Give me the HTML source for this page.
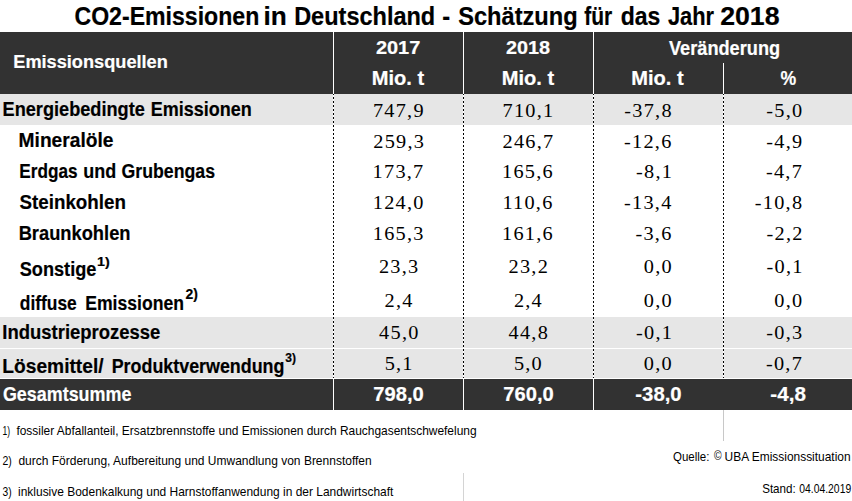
<!DOCTYPE html>
<html><head><meta charset="utf-8"><style>
html,body{margin:0;padding:0;background:#fff;width:852px;height:501px;overflow:hidden;font-family:"Liberation Sans",sans-serif;}
svg{display:block}
</style></head><body>
<svg width="852" height="501" viewBox="0 0 852 501">

<rect x="0" y="32" width="852" height="62" fill="#323232"/>
<rect x="0" y="94" width="852" height="31" fill="#e6e6e6"/>
<rect x="0" y="317" width="852" height="31" fill="#e6e6e6"/>
<rect x="0" y="349" width="852" height="29" fill="#e6e6e6"/>
<rect x="0" y="379" width="852" height="31" fill="#323232"/>
<rect x="333" y="32" width="1" height="62" fill="#fff"/>
<rect x="463" y="32" width="1" height="62" fill="#fff"/>
<rect x="593" y="32" width="1" height="62" fill="#fff"/>
<rect x="723" y="63" width="1" height="31" fill="#fff"/>
<rect x="333" y="379" width="1" height="31" fill="#fff"/>
<rect x="463" y="379" width="1" height="31" fill="#fff"/>
<rect x="593" y="379" width="1" height="31" fill="#fff"/>
<rect x="333" y="94" width="1" height="284" fill="#fff"/>
<rect x="463" y="94" width="1" height="284" fill="#fff"/>
<rect x="593" y="94" width="1" height="284" fill="#fff"/>
<rect x="723" y="94" width="1" height="284" fill="#fff"/>
<line x1="333.5" y1="94" x2="333.5" y2="378" stroke="#000" stroke-width="1" stroke-dasharray="2 2" stroke-dashoffset="1"/>
<line x1="463.5" y1="94" x2="463.5" y2="378" stroke="#000" stroke-width="1" stroke-dasharray="2 2" stroke-dashoffset="1"/>
<line x1="593.5" y1="94" x2="593.5" y2="378" stroke="#000" stroke-width="1" stroke-dasharray="2 2" stroke-dashoffset="1"/>
<line x1="723.5" y1="94" x2="723.5" y2="378" stroke="#000" stroke-width="1" stroke-dasharray="2 2" stroke-dashoffset="1"/>
<rect x="463" y="473" width="1" height="28" fill="#d4d4d4"/>
<rect x="723" y="410" width="1" height="31" fill="#c8c8c8"/>

<text xml:space="preserve" font-family="Liberation Sans" font-weight="bold" stroke-width="0.2" font-size="24.889" fill="#000" stroke="#000" transform="translate(74.48,24.70) scale(0.9281,1)">CO2-Emissionen</text>
<text xml:space="preserve" font-family="Liberation Sans" font-weight="bold" stroke-width="0.2" font-size="24.889" fill="#000" stroke="#000" transform="translate(263.56,24.70) scale(1.0538,1)">in</text>
<text xml:space="preserve" font-family="Liberation Sans" font-weight="bold" stroke-width="0.2" font-size="24.889" fill="#000" stroke="#000" transform="translate(294.13,24.70) scale(0.9452,1)">Deutschland</text>
<text xml:space="preserve" font-family="Liberation Sans" font-weight="bold" stroke-width="0.2" font-size="24.889" fill="#000" stroke="#000" transform="translate(442.26,24.70) scale(0.9529,1)">-</text>
<text xml:space="preserve" font-family="Liberation Sans" font-weight="bold" stroke-width="0.2" font-size="24.889" fill="#000" stroke="#000" transform="translate(458.13,24.70) scale(0.9504,1)">Schätzung</text>
<text xml:space="preserve" font-family="Liberation Sans" font-weight="bold" stroke-width="0.2" font-size="24.889" fill="#000" stroke="#000" transform="translate(584.27,24.70) scale(0.8447,1)">für</text>
<text xml:space="preserve" font-family="Liberation Sans" font-weight="bold" stroke-width="0.2" font-size="24.889" fill="#000" stroke="#000" transform="translate(620.68,24.70) scale(0.9246,1)">das</text>
<text xml:space="preserve" font-family="Liberation Sans" font-weight="bold" stroke-width="0.2" font-size="24.889" fill="#000" stroke="#000" transform="translate(667.90,24.70) scale(0.8771,1)">Jahr</text>
<text xml:space="preserve" font-family="Liberation Sans" font-weight="bold" stroke-width="0.2" font-size="24.889" fill="#000" stroke="#000" transform="translate(720.17,24.70) scale(1.0728,1)">2018</text>
<text xml:space="preserve" font-family="Liberation Sans" font-weight="bold" stroke-width="0.2" font-size="18.916" fill="#fff" stroke="#fff" transform="translate(13.26,68.40) scale(0.9614,1)">Emissionsquellen</text>
<text xml:space="preserve" font-family="Liberation Sans" font-weight="bold" stroke-width="0.2" font-size="19.058" fill="#fff" stroke="#fff" transform="translate(375.88,54.00) scale(1.0481,1)">2017</text>
<text xml:space="preserve" font-family="Liberation Sans" font-weight="bold" stroke-width="0.2" font-size="19.058" fill="#fff" stroke="#fff" transform="translate(505.88,54.00) scale(1.0405,1)">2018</text>
<text xml:space="preserve" font-family="Liberation Sans" font-weight="bold" stroke-width="0.2" font-size="19.484" fill="#fff" stroke="#fff" transform="translate(371.75,84.80) scale(1.0293,1)">Mio. t</text>
<text xml:space="preserve" font-family="Liberation Sans" font-weight="bold" stroke-width="0.2" font-size="19.484" fill="#fff" stroke="#fff" transform="translate(501.75,84.80) scale(1.0293,1)">Mio. t</text>
<text xml:space="preserve" font-family="Liberation Sans" font-weight="bold" stroke-width="0.2" font-size="19.484" fill="#fff" stroke="#fff" transform="translate(631.24,84.80) scale(1.0313,1)">Mio. t</text>
<text xml:space="preserve" font-family="Liberation Sans" font-weight="bold" stroke-width="0.2" font-size="19.484" fill="#fff" stroke="#fff" transform="translate(780.52,84.80) scale(0.9078,1)">%</text>
<text xml:space="preserve" font-family="Liberation Sans" font-weight="bold" stroke-width="0.2" font-size="19.342" fill="#fff" stroke="#fff" transform="translate(669.00,54.80) scale(0.9402,1)">Veränderung</text>
<text xml:space="preserve" font-family="Liberation Sans" font-weight="bold" stroke-width="0.2" font-size="19.911" fill="#000" stroke="#000" transform="translate(2.56,116.00) scale(0.9121,1)">Energiebedingte</text>
<text xml:space="preserve" font-family="Liberation Sans" font-weight="bold" stroke-width="0.2" font-size="19.911" fill="#000" stroke="#000" transform="translate(150.68,116.00) scale(0.9037,1)">Emissionen</text>
<text xml:space="preserve" font-family="Liberation Sans" font-weight="bold" stroke-width="0.2" font-size="19.911" fill="#000" stroke="#000" transform="translate(18.60,147.20) scale(0.9634,1)">Mineralöle</text>
<text xml:space="preserve" font-family="Liberation Sans" font-weight="bold" stroke-width="0.2" font-size="19.911" fill="#000" stroke="#000" transform="translate(19.32,177.70) scale(0.8648,1)">Erdgas</text>
<text xml:space="preserve" font-family="Liberation Sans" font-weight="bold" stroke-width="0.2" font-size="19.911" fill="#000" stroke="#000" transform="translate(83.16,177.70) scale(0.9043,1)">und</text>
<text xml:space="preserve" font-family="Liberation Sans" font-weight="bold" stroke-width="0.2" font-size="19.911" fill="#000" stroke="#000" transform="translate(121.45,177.70) scale(0.8903,1)">Grubengas</text>
<text xml:space="preserve" font-family="Liberation Sans" font-weight="bold" stroke-width="0.2" font-size="19.911" fill="#000" stroke="#000" transform="translate(19.51,208.80) scale(0.9429,1)">Steinkohlen</text>
<text xml:space="preserve" font-family="Liberation Sans" font-weight="bold" stroke-width="0.2" font-size="19.911" fill="#000" stroke="#000" transform="translate(18.66,239.60) scale(0.9198,1)">Braunkohlen</text>
<text xml:space="preserve" font-family="Liberation Sans" font-weight="bold" stroke-width="0.2" font-size="19.911" fill="#000" stroke="#000" transform="translate(19.72,276.20) scale(0.9127,1)">Sonstige</text>
<text xml:space="preserve" font-family="Liberation Sans" font-weight="bold" stroke-width="0.2" font-size="19.911" fill="#000" stroke="#000" transform="translate(19.76,310.00) scale(0.8746,1)">diffuse</text>
<text xml:space="preserve" font-family="Liberation Sans" font-weight="bold" stroke-width="0.2" font-size="19.911" fill="#000" stroke="#000" transform="translate(85.20,310.00) scale(0.8845,1)">Emissionen</text>
<text xml:space="preserve" font-family="Liberation Sans" font-weight="bold" stroke-width="0.2" font-size="19.911" fill="#000" stroke="#000" transform="translate(2.35,339.00) scale(0.9279,1)">Industrieprozesse</text>
<text xml:space="preserve" font-family="Liberation Sans" font-weight="bold" stroke-width="0.2" font-size="19.911" fill="#000" stroke="#000" transform="translate(2.30,372.60) scale(0.9641,1)">Lösemittel/</text>
<text xml:space="preserve" font-family="Liberation Sans" font-weight="bold" stroke-width="0.2" font-size="19.911" fill="#000" stroke="#000" transform="translate(111.68,372.60) scale(0.8986,1)">Produktverwendung</text>
<text xml:space="preserve" font-family="Liberation Sans" font-weight="bold" stroke-width="0.2" font-size="19.769" fill="#fff" stroke="#fff" transform="translate(2.94,401.00) scale(0.9066,1)">Gesamtsumme</text>
<text xml:space="preserve" font-family="Liberation Sans" font-weight="bold" stroke-width="0.2" font-size="12.800" fill="#000" stroke="#000" transform="translate(97.11,266.00) scale(1.1167,1)">1)</text>
<text xml:space="preserve" font-family="Liberation Sans" font-weight="bold" stroke-width="0.2" font-size="14.222" fill="#000" stroke="#000" transform="translate(185.46,299.40) scale(0.9840,1)">2)</text>
<text xml:space="preserve" font-family="Liberation Sans" font-weight="bold" stroke-width="0.2" font-size="12.231" fill="#000" stroke="#000" transform="translate(285.31,361.50) scale(0.9861,1)">3)</text>
<text xml:space="preserve" font-family="Liberation Serif" font-size="19.498" fill="#000" transform="translate(372.93,117.00) scale(1.0418,1)" letter-spacing="1.2">747,9</text>
<text xml:space="preserve" font-family="Liberation Serif" font-size="19.498" fill="#000" transform="translate(502.49,117.00) scale(1.0418,1)" letter-spacing="1.2">710,1</text>
<text xml:space="preserve" font-family="Liberation Serif" font-size="19.498" fill="#000" transform="translate(624.32,117.00) scale(1.0418,1)" letter-spacing="1.2">-37,8</text>
<text xml:space="preserve" font-family="Liberation Serif" font-size="19.498" fill="#000" transform="translate(766.23,117.00) scale(1.0418,1)" letter-spacing="1.2">-5,0</text>
<text xml:space="preserve" font-family="Liberation Serif" font-size="19.498" fill="#000" transform="translate(373.25,147.70) scale(1.0418,1)" letter-spacing="1.2">259,3</text>
<text xml:space="preserve" font-family="Liberation Serif" font-size="19.498" fill="#000" transform="translate(502.49,147.70) scale(1.0418,1)" letter-spacing="1.2">246,7</text>
<text xml:space="preserve" font-family="Liberation Serif" font-size="19.498" fill="#000" transform="translate(624.01,147.70) scale(1.0418,1)" letter-spacing="1.2">-12,6</text>
<text xml:space="preserve" font-family="Liberation Serif" font-size="19.498" fill="#000" transform="translate(766.23,147.70) scale(1.0418,1)" letter-spacing="1.2">-4,9</text>
<text xml:space="preserve" font-family="Liberation Serif" font-size="19.498" fill="#000" transform="translate(372.61,177.80) scale(1.0418,1)" letter-spacing="1.2">173,7</text>
<text xml:space="preserve" font-family="Liberation Serif" font-size="19.498" fill="#000" transform="translate(502.01,177.80) scale(1.0418,1)" letter-spacing="1.2">165,6</text>
<text xml:space="preserve" font-family="Liberation Serif" font-size="19.498" fill="#000" transform="translate(636.05,177.80) scale(1.0418,1)" letter-spacing="1.2">-8,1</text>
<text xml:space="preserve" font-family="Liberation Serif" font-size="19.498" fill="#000" transform="translate(765.91,177.80) scale(1.0418,1)" letter-spacing="1.2">-4,7</text>
<text xml:space="preserve" font-family="Liberation Serif" font-size="19.498" fill="#000" transform="translate(372.77,208.90) scale(1.0418,1)" letter-spacing="1.2">124,0</text>
<text xml:space="preserve" font-family="Liberation Serif" font-size="19.498" fill="#000" transform="translate(502.39,208.90) scale(1.0418,1)" letter-spacing="1.2">110,6</text>
<text xml:space="preserve" font-family="Liberation Serif" font-size="19.498" fill="#000" transform="translate(624.01,208.90) scale(1.0418,1)" letter-spacing="1.2">-13,4</text>
<text xml:space="preserve" font-family="Liberation Serif" font-size="19.498" fill="#000" transform="translate(754.82,208.90) scale(1.0418,1)" letter-spacing="1.2">-10,8</text>
<text xml:space="preserve" font-family="Liberation Serif" font-size="19.498" fill="#000" transform="translate(372.77,240.30) scale(1.0418,1)" letter-spacing="1.2">165,3</text>
<text xml:space="preserve" font-family="Liberation Serif" font-size="19.498" fill="#000" transform="translate(502.01,240.30) scale(1.0418,1)" letter-spacing="1.2">161,6</text>
<text xml:space="preserve" font-family="Liberation Serif" font-size="19.498" fill="#000" transform="translate(635.41,240.30) scale(1.0418,1)" letter-spacing="1.2">-3,6</text>
<text xml:space="preserve" font-family="Liberation Serif" font-size="19.498" fill="#000" transform="translate(766.55,240.30) scale(1.0418,1)" letter-spacing="1.2">-2,2</text>
<text xml:space="preserve" font-family="Liberation Serif" font-size="19.498" fill="#000" transform="translate(378.95,273.00) scale(1.0418,1)" letter-spacing="1.2">23,3</text>
<text xml:space="preserve" font-family="Liberation Serif" font-size="19.498" fill="#000" transform="translate(508.51,273.00) scale(1.0418,1)" letter-spacing="1.2">23,2</text>
<text xml:space="preserve" font-family="Liberation Serif" font-size="19.498" fill="#000" transform="translate(643.74,273.00) scale(1.0418,1)" letter-spacing="1.2">0,0</text>
<text xml:space="preserve" font-family="Liberation Serif" font-size="19.498" fill="#000" transform="translate(766.55,273.00) scale(1.0418,1)" letter-spacing="1.2">-0,1</text>
<text xml:space="preserve" font-family="Liberation Serif" font-size="19.498" fill="#000" transform="translate(384.50,306.70) scale(1.0418,1)" letter-spacing="1.2">2,4</text>
<text xml:space="preserve" font-family="Liberation Serif" font-size="19.498" fill="#000" transform="translate(513.90,306.70) scale(1.0418,1)" letter-spacing="1.2">2,4</text>
<text xml:space="preserve" font-family="Liberation Serif" font-size="19.498" fill="#000" transform="translate(643.74,306.70) scale(1.0418,1)" letter-spacing="1.2">0,0</text>
<text xml:space="preserve" font-family="Liberation Serif" font-size="19.498" fill="#000" transform="translate(774.24,306.70) scale(1.0418,1)" letter-spacing="1.2">0,0</text>
<text xml:space="preserve" font-family="Liberation Serif" font-size="19.498" fill="#000" transform="translate(379.11,338.80) scale(1.0418,1)" letter-spacing="1.2">45,0</text>
<text xml:space="preserve" font-family="Liberation Serif" font-size="19.498" fill="#000" transform="translate(508.51,338.80) scale(1.0418,1)" letter-spacing="1.2">44,8</text>
<text xml:space="preserve" font-family="Liberation Serif" font-size="19.498" fill="#000" transform="translate(636.05,338.80) scale(1.0418,1)" letter-spacing="1.2">-0,1</text>
<text xml:space="preserve" font-family="Liberation Serif" font-size="19.498" fill="#000" transform="translate(766.23,338.80) scale(1.0418,1)" letter-spacing="1.2">-0,3</text>
<text xml:space="preserve" font-family="Liberation Serif" font-size="19.498" fill="#000" transform="translate(384.65,369.50) scale(1.0418,1)" letter-spacing="1.2">5,1</text>
<text xml:space="preserve" font-family="Liberation Serif" font-size="19.498" fill="#000" transform="translate(513.90,369.50) scale(1.0418,1)" letter-spacing="1.2">5,0</text>
<text xml:space="preserve" font-family="Liberation Serif" font-size="19.498" fill="#000" transform="translate(643.74,369.50) scale(1.0418,1)" letter-spacing="1.2">0,0</text>
<text xml:space="preserve" font-family="Liberation Serif" font-size="19.498" fill="#000" transform="translate(765.91,369.50) scale(1.0418,1)" letter-spacing="1.2">-0,7</text>
<text xml:space="preserve" font-family="Liberation Sans" font-weight="bold" stroke-width="0.2" font-size="19.484" fill="#fff" stroke="#fff" transform="translate(373.37,400.50) scale(1.0346,1)">798,0</text>
<text xml:space="preserve" font-family="Liberation Sans" font-weight="bold" stroke-width="0.2" font-size="19.484" fill="#fff" stroke="#fff" transform="translate(503.37,400.50) scale(1.0346,1)">760,0</text>
<text xml:space="preserve" font-family="Liberation Sans" font-weight="bold" stroke-width="0.2" font-size="19.484" fill="#fff" stroke="#fff" transform="translate(635.37,400.50) scale(1.0416,1)">-38,0</text>
<text xml:space="preserve" font-family="Liberation Sans" font-weight="bold" stroke-width="0.2" font-size="19.484" fill="#fff" stroke="#fff" transform="translate(770.36,400.50) scale(1.0591,1)">-4,8</text>
<text xml:space="preserve" font-family="Liberation Sans" font-size="12.942" fill="#000" transform="translate(2.47,434.50) scale(0.6581,1)">1)</text>
<text xml:space="preserve" font-family="Liberation Sans" font-size="12.942" fill="#000" transform="translate(16.40,434.50) scale(0.9236,1)">fossiler Abfallanteil, Ersatzbrennstoffe und Emissionen durch Rauchgasentschwefelung</text>
<text xml:space="preserve" font-family="Liberation Sans" font-size="12.942" fill="#000" transform="translate(2.41,465.00) scale(0.8112,1)">2)</text>
<text xml:space="preserve" font-family="Liberation Sans" font-size="12.942" fill="#000" transform="translate(18.42,465.00) scale(0.9284,1)">durch Förderung, Aufbereitung und Umwandlung von Brennstoffen</text>
<text xml:space="preserve" font-family="Liberation Sans" font-size="12.942" fill="#000" transform="translate(2.58,495.50) scale(0.7955,1)">3)</text>
<text xml:space="preserve" font-family="Liberation Sans" font-size="12.942" fill="#000" transform="translate(18.05,495.50) scale(0.9245,1)">inklusive Bodenkalkung und Harnstoffanwendung in der Landwirtschaft</text>
<text xml:space="preserve" font-family="Liberation Sans" font-size="12.942" fill="#000" transform="translate(672.96,461.00) scale(0.8896,1)">Quelle:</text>
<text xml:space="preserve" font-family="Liberation Sans" font-size="12.231" fill="#000" transform="translate(714.00,459.50) scale(0.8461,1)">©</text>
<text xml:space="preserve" font-family="Liberation Sans" font-size="12.942" fill="#000" transform="translate(724.55,461.00) scale(0.9238,1)">UBA Emissionssituation</text>
<text xml:space="preserve" font-family="Liberation Sans" font-size="12.942" fill="#000" transform="translate(762.14,493.00) scale(0.8983,1)">Stand:</text>
<text xml:space="preserve" font-family="Liberation Sans" font-size="12.942" fill="#000" transform="translate(799.28,493.00) scale(0.8019,1)">04.04.2019</text>
</svg>
</body></html>
